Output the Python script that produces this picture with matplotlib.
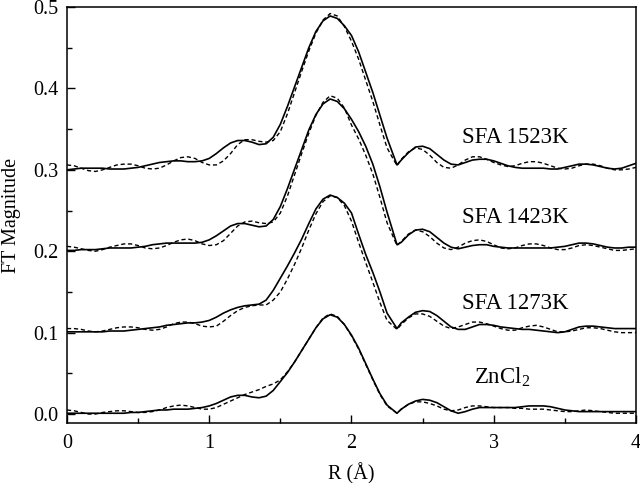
import matplotlib
matplotlib.use("Agg")
import matplotlib.pyplot as plt
from matplotlib.ticker import MultipleLocator

# R grid (Angstrom) -- the first-shell minimum sits at 2.32
r = [0.00, 0.05, 0.10, 0.15, 0.20, 0.25, 0.30, 0.35, 0.40, 0.45,
     0.50, 0.55, 0.60, 0.65, 0.70, 0.75, 0.80, 0.85, 0.90, 0.95,
     1.00, 1.05, 1.10, 1.15, 1.20, 1.25, 1.30, 1.35, 1.40, 1.45,
     1.50, 1.55, 1.60, 1.65, 1.70, 1.75, 1.80, 1.85, 1.90, 1.95,
     2.00, 2.05, 2.10, 2.15, 2.20, 2.25, 2.32, 2.35, 2.40, 2.45,
     2.50, 2.55, 2.60, 2.65, 2.70, 2.75, 2.80, 2.85, 2.90, 2.95,
     3.00, 3.05, 3.10, 3.15, 3.20, 3.25, 3.30, 3.35, 3.40, 3.45,
     3.50, 3.55, 3.60, 3.65, 3.70, 3.75, 3.80, 3.85, 3.90, 3.95, 4.00]

# solid = experiment, dashed = fit
sfa1523_exp = [0.300, 0.301, 0.302, 0.302, 0.302, 0.302, 0.301, 0.301, 0.301, 0.302,
               0.303, 0.305, 0.307, 0.309, 0.310, 0.311, 0.311, 0.310, 0.310, 0.311,
               0.314, 0.320, 0.327, 0.333, 0.336, 0.336, 0.334, 0.331, 0.332, 0.340,
               0.356, 0.378, 0.402, 0.426, 0.450, 0.470, 0.483, 0.489, 0.486, 0.477,
               0.465, 0.445, 0.420, 0.395, 0.367, 0.339, 0.306, 0.312, 0.321, 0.328,
               0.329, 0.326, 0.319, 0.312, 0.307, 0.306, 0.309, 0.312, 0.313, 0.313,
               0.311, 0.308, 0.305, 0.303, 0.302, 0.302, 0.302, 0.302, 0.301, 0.301,
               0.303, 0.305, 0.307, 0.307, 0.306, 0.304, 0.302, 0.301, 0.302, 0.305, 0.308]
sfa1523_fit = [0.306, 0.305, 0.302, 0.299, 0.298, 0.300, 0.303, 0.306, 0.307, 0.307,
               0.305, 0.302, 0.301, 0.302, 0.306, 0.311, 0.315, 0.316, 0.314, 0.309,
               0.306, 0.306, 0.311, 0.320, 0.331, 0.337, 0.337, 0.335, 0.334, 0.336,
               0.347, 0.369, 0.395, 0.421, 0.446, 0.468, 0.484, 0.492, 0.489, 0.476,
               0.458, 0.436, 0.410, 0.384, 0.355, 0.327, 0.305, 0.313, 0.322, 0.327,
               0.325, 0.318, 0.309, 0.303, 0.302, 0.306, 0.312, 0.316, 0.316, 0.313,
               0.309, 0.306, 0.304, 0.305, 0.308, 0.310, 0.310, 0.308, 0.305, 0.302,
               0.301, 0.302, 0.305, 0.307, 0.307, 0.305, 0.302, 0.300, 0.300, 0.301, 0.303]

sfa1423_exp = [0.201, 0.201, 0.202, 0.202, 0.202, 0.203, 0.204, 0.204, 0.204, 0.204,
               0.205, 0.206, 0.208, 0.209, 0.210, 0.210, 0.210, 0.210, 0.210, 0.211,
               0.214, 0.219, 0.225, 0.231, 0.234, 0.234, 0.232, 0.230, 0.231, 0.239,
               0.255, 0.277, 0.301, 0.325, 0.349, 0.368, 0.381, 0.387, 0.384, 0.375,
               0.362, 0.347, 0.329, 0.307, 0.279, 0.248, 0.208, 0.211, 0.220, 0.226,
               0.227, 0.224, 0.217, 0.210, 0.205, 0.203, 0.205, 0.207, 0.208, 0.208,
               0.206, 0.205, 0.204, 0.204, 0.204, 0.204, 0.204, 0.204, 0.204, 0.205,
               0.206, 0.208, 0.210, 0.210, 0.209, 0.207, 0.205, 0.204, 0.204, 0.205, 0.205]
sfa1423_fit = [0.206, 0.205, 0.203, 0.201, 0.200, 0.202, 0.205, 0.207, 0.209, 0.209,
               0.207, 0.204, 0.203, 0.204, 0.207, 0.211, 0.214, 0.215, 0.213, 0.209,
               0.207, 0.208, 0.213, 0.222, 0.231, 0.236, 0.237, 0.235, 0.234, 0.236,
               0.247, 0.268, 0.294, 0.320, 0.345, 0.367, 0.383, 0.391, 0.388, 0.376,
               0.355, 0.338, 0.318, 0.295, 0.266, 0.235, 0.207, 0.212, 0.221, 0.226,
               0.224, 0.218, 0.210, 0.204, 0.202, 0.205, 0.210, 0.213, 0.214, 0.212,
               0.208, 0.204, 0.203, 0.204, 0.207, 0.209, 0.209, 0.207, 0.204, 0.202,
               0.202, 0.204, 0.207, 0.208, 0.207, 0.205, 0.203, 0.201, 0.201, 0.202, 0.203]

sfa1273_exp = [0.101, 0.101, 0.101, 0.101, 0.101, 0.101, 0.102, 0.102, 0.102, 0.103,
               0.104, 0.105, 0.106, 0.107, 0.109, 0.110, 0.111, 0.112, 0.112, 0.113,
               0.115, 0.119, 0.124, 0.128, 0.131, 0.133, 0.134, 0.135, 0.140, 0.152,
               0.167, 0.182, 0.198, 0.215, 0.234, 0.252, 0.264, 0.269, 0.266, 0.259,
               0.247, 0.221, 0.196, 0.174, 0.150, 0.124, 0.105, 0.112, 0.119, 0.125,
               0.127, 0.126, 0.121, 0.114, 0.107, 0.104, 0.104, 0.107, 0.110, 0.110,
               0.109, 0.107, 0.106, 0.105, 0.104, 0.104, 0.103, 0.102, 0.101, 0.100,
               0.101, 0.104, 0.107, 0.108, 0.108, 0.107, 0.106, 0.105, 0.105, 0.105, 0.105]
sfa1273_fit = [0.105, 0.105, 0.104, 0.102, 0.101, 0.102, 0.104, 0.106, 0.107, 0.107,
               0.106, 0.104, 0.103, 0.104, 0.107, 0.111, 0.113, 0.113, 0.111, 0.108,
               0.107, 0.108, 0.114, 0.121, 0.127, 0.131, 0.133, 0.134, 0.134, 0.140,
               0.150, 0.166, 0.184, 0.204, 0.226, 0.246, 0.261, 0.268, 0.266, 0.256,
               0.237, 0.211, 0.186, 0.162, 0.137, 0.115, 0.104, 0.110, 0.118, 0.123,
               0.123, 0.120, 0.114, 0.108, 0.105, 0.107, 0.110, 0.113, 0.113, 0.111,
               0.108, 0.105, 0.103, 0.103, 0.106, 0.108, 0.109, 0.107, 0.104, 0.101,
               0.101, 0.102, 0.104, 0.106, 0.106, 0.105, 0.103, 0.101, 0.100, 0.100, 0.100]

zncl2_exp = [0.001, 0.001, 0.001, 0.001, 0.001, 0.001, 0.001, 0.001, 0.001, 0.002,
             0.002, 0.003, 0.004, 0.005, 0.005, 0.006, 0.006, 0.006, 0.007, 0.008,
             0.010, 0.013, 0.017, 0.021, 0.023, 0.023, 0.021, 0.020, 0.022, 0.029,
             0.040, 0.051, 0.064, 0.078, 0.092, 0.106, 0.117, 0.122, 0.119, 0.110,
             0.097, 0.081, 0.062, 0.043, 0.025, 0.011, 0.001, 0.006, 0.012, 0.016,
             0.018, 0.017, 0.014, 0.009, 0.004, 0.001, 0.003, 0.006, 0.008, 0.008,
             0.008, 0.008, 0.008, 0.008, 0.009, 0.010, 0.010, 0.010, 0.009, 0.007,
             0.005, 0.004, 0.003, 0.003, 0.003, 0.003, 0.003, 0.003, 0.003, 0.003, 0.003]
zncl2_fit = [0.005, 0.004, 0.002, 0.000, 0.000, 0.002, 0.003, 0.004, 0.004, 0.003,
             0.002, 0.002, 0.003, 0.005, 0.008, 0.010, 0.011, 0.010, 0.008, 0.006,
             0.006, 0.008, 0.012, 0.016, 0.020, 0.024, 0.027, 0.030, 0.034, 0.037,
             0.042, 0.052, 0.064, 0.078, 0.092, 0.106, 0.118, 0.123, 0.120, 0.110,
             0.096, 0.080, 0.061, 0.042, 0.024, 0.010, 0.001, 0.006, 0.012, 0.015,
             0.015, 0.013, 0.010, 0.006, 0.004, 0.005, 0.008, 0.010, 0.010, 0.009,
             0.008, 0.008, 0.008, 0.007, 0.007, 0.006, 0.006, 0.006, 0.005, 0.004,
             0.003, 0.003, 0.004, 0.005, 0.004, 0.003, 0.002, 0.001, 0.001, 0.001, 0.001]

labels = ['SFA 1523K', 'SFA 1423K', 'SFA 1273K', 'ZnCl$_2$']
label_pos = [(3.15, 0.340), (3.15, 0.241), (3.15, 0.136), (3.06, 0.045)]

plt.rcParams['font.family'] = ['Liberation Serif', 'DejaVu Serif']
plt.rcParams['mathtext.fontset'] = 'custom'
plt.rcParams['mathtext.rm'] = 'Liberation Serif'

fig = plt.figure(figsize=(6.4, 4.83), dpi=100)
ax = fig.add_axes([0.1047, 0.1242, 0.889, 0.8613])

for exp, fit in [(sfa1523_exp, sfa1523_fit), (sfa1423_exp, sfa1423_fit),
                 (sfa1273_exp, sfa1273_fit), (zncl2_exp, zncl2_fit)]:
    ax.plot(r, exp, color='black', lw=1.2, solid_joinstyle='round')
    ax.plot(r, fit, color='black', lw=1.0, linestyle=(0, (3, 2)))

for txt, (x, y) in zip(labels, label_pos):
    ax.text(x, y, txt, fontsize=16.5, ha='center', va='center')

ax.set_xlim(0, 4)
ax.set_ylim(-0.011, 0.5)
ax.xaxis.set_major_locator(MultipleLocator(1))
ax.xaxis.set_minor_locator(MultipleLocator(0.5))
ax.yaxis.set_major_locator(MultipleLocator(0.1))
ax.yaxis.set_minor_locator(MultipleLocator(0.05))
ax.set_yticks([0.0, 0.1, 0.2, 0.3, 0.4, 0.5])
ax.set_yticklabels(['0.0', '0.1', '0.2', '0.3', '0.4', '0.5'])
ax.tick_params(which='both', direction='in', labelsize=14.5, width=1.0)
ax.tick_params(which='major', length=6)
ax.tick_params(which='minor', length=3.5)
ax.tick_params(axis='x', pad=8)
ax.tick_params(axis='y', pad=6)
for s in ax.spines.values():
    s.set_linewidth(1.1)

ax.set_xlabel('R (Å)', fontsize=14.5, labelpad=7)
ax.set_ylabel('FT Magnitude', fontsize=14.5, labelpad=9)

fig.savefig('out.png', dpi=100)
